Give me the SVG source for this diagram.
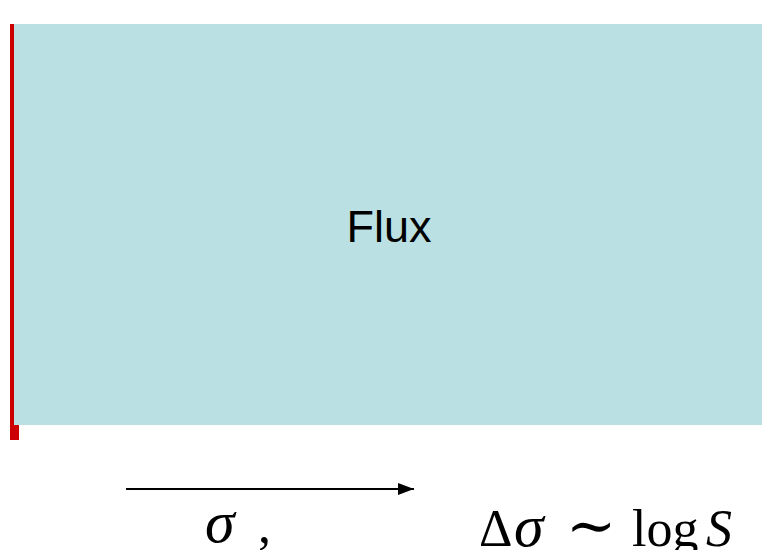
<svg xmlns="http://www.w3.org/2000/svg" width="762" height="550" viewBox="0 0 762 550">
<style>
.math{font-family:"Liberation Serif","DejaVu Serif",serif;font-size:52px;fill:#000}
.it{font-style:italic}
.sig{font-style:italic;font-size:60px}
.sim{font-family:"DejaVu Serif",serif;font-size:60px}
</style>
<defs>
<marker id="ah" markerWidth="16" markerHeight="12" refX="16" refY="6" orient="auto" markerUnits="userSpaceOnUse">
<path d="M0,0 L16,6 L0,12 Z" fill="#000"/>
</marker>
</defs>
<g id="flux">
<rect x="14" y="24" width="748" height="401" fill="#BAE0E3"/>
<text x="389" y="242" text-anchor="middle" font-family="Liberation Sans, Arial, sans-serif" font-size="45" fill="#000">Flux</text>
</g>
<g id="boundary">
<rect x="10" y="24" width="4" height="416" fill="#CC0000"/>
<rect x="10" y="425" width="9" height="15" fill="#CC0000"/>
</g>
<g id="connectors">
<line x1="126" y1="489" x2="414" y2="489" stroke="#000" stroke-width="2" marker-end="url(#ah)"/>
</g>
<g id="labels">
<text class="math" y="542"><tspan class="sig" x="205">σ</tspan><tspan x="258">,</tspan></text>
<text class="math" y="546"><tspan x="479">Δ</tspan><tspan class="sig" x="514">σ</tspan><tspan class="sim" x="566">∼</tspan><tspan x="632">log</tspan><tspan class="it" x="706">S</tspan></text>
</g>
</svg>
